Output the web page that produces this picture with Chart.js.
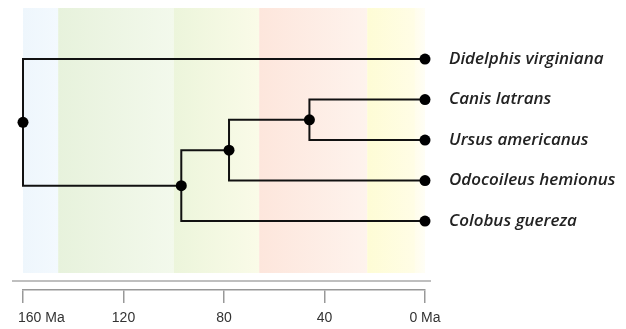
<!DOCTYPE html>
<html>
<head>
<meta charset="utf-8">
<script src="https://cdn.jsdelivr.net/npm/chart.js@4.4.0/dist/chart.umd.min.js"></script>
<style>
  html, body { margin: 0; padding: 0; background: #fff; }
  #wrap { width: 626px; height: 329px; position: relative; }
</style>
</head>
<body>
<div id="wrap"><canvas id="tree"></canvas></div>
<script>
// taxa (tips), top to bottom
var taxa = ['Didelphis virginiana', 'Canis latrans', 'Ursus americanus', 'Odocoileus hemionus', 'Colobus guereza'];
// internal nodes and their divergence times (Ma)
var nodeNames = ['root', 'n2', 'n3', 'n4'];
var nodeAges = [160, 97, 78, 46];
// children of each internal node (tips as 't0'..)
var nodeChildren = [['t0', 'n2'], ['n3', 't4'], ['n4', 't3'], ['t1', 't2']];

// geological time bands: [from Ma, to Ma]
var bandRanges = [[160, 146], [146, 100], [100, 66], [66, 23], [23, 4], [4, 0]];
var bandFrom = ['#eef6fc', '#e7f2dc', '#ecf5db', '#fde6dc', '#fefcd5', '#fffdec'];
var bandTo = ['#f3f9fe', '#f3f9ec', '#fafbe8', '#fef3ed', '#fffde6', '#fffef5'];

var tickLabels = ['160 Ma', '120', '80', '40', '0 Ma'];
var tickValues = [160, 120, 80, 40, 0];

// position of every node: tips sit at 0 Ma on their row, internal nodes at mid of children
var pos = {};
taxa.forEach(function (t, i) { pos['t' + i] = { x: 0, y: i }; });
function place(k) {
  if (pos[k]) return pos[k];
  var i = nodeNames.indexOf(k);
  var ys = nodeChildren[i].map(function (c) { return place(c).y; });
  pos[k] = { x: nodeAges[i], y: (ys[0] + ys[1]) / 2 };
  return pos[k];
}
nodeNames.forEach(place);

var datasets = [];
nodeNames.forEach(function (n, i) {
  nodeChildren[i].forEach(function (c) {
    datasets.push({
      type: 'scatter',
      showLine: true,
      data: [{ x: pos[n].x, y: pos[n].y }, { x: pos[n].x, y: pos[c].y }, { x: pos[c].x, y: pos[c].y }],
      borderColor: '#111',
      borderWidth: 2,
      pointRadius: 0,
      clip: false,
      order: 2
    });
  });
});
datasets.push({
  type: 'scatter',
  data: Object.keys(pos).map(function (k) { return pos[k]; }),
  backgroundColor: '#000',
  borderWidth: 0,
  pointRadius: 5.5,
  clip: false,
  order: 1
});

var bandsPlugin = {
  id: 'bands',
  beforeDatasetsDraw: function (chart) {
    var ctx = chart.ctx, xs = chart.scales.x, ys = chart.scales.y;
    var top = ys.getPixelForValue(-1.26), bot = ys.getPixelForValue(5.28);
    bandRanges.forEach(function (r, i) {
      var x0 = xs.getPixelForValue(r[0]), x1 = xs.getPixelForValue(r[1]);
      var g = ctx.createLinearGradient(x0, 0, x1, 0);
      g.addColorStop(0, bandFrom[i]);
      g.addColorStop(1, bandTo[i]);
      ctx.fillStyle = g;
      ctx.fillRect(x0, top, x1 - x0, bot - top);
    });
  },
  afterDraw: function (chart) {
    var ctx = chart.ctx, xs = chart.scales.x, a = chart.chartArea;
    ctx.save();
    // separator line above the time axis
    ctx.strokeStyle = '#aaa';
    ctx.lineWidth = 1.5;
    ctx.beginPath();
    ctx.moveTo(a.left - 11, a.bottom - 9);
    ctx.lineTo(a.right + 6, a.bottom - 9);
    ctx.stroke();
    // time axis labels, centred on the ticks but kept inside the left margin
    ctx.font = '14px "Liberation Sans", Arial, sans-serif';
    ctx.fillStyle = '#333';
    ctx.textBaseline = 'middle';
    ctx.textAlign = 'left';
    tickLabels.forEach(function (l, i) {
      var px = xs.getPixelForValue(tickValues[i]);
      var w = ctx.measureText(l).width;
      var x = Math.max(px - w / 2, a.left - 5);
      ctx.fillText(l, x, a.bottom + 28);
    });
    ctx.restore();
  }
};

new Chart(document.getElementById('tree'), {
  type: 'scatter',
  data: { datasets: datasets },
  plugins: [bandsPlugin],
  options: {
    responsive: true,
    maintainAspectRatio: false,
    animation: false,
    layout: { padding: { top: 8, left: 23, right: 0, bottom: 0 } },
    plugins: { legend: { display: false }, tooltip: { enabled: false } },
    scales: {
      x: {
        type: 'linear',
        reverse: true,
        min: 0,
        max: 160,
        afterFit: function (s) { s.height = 39; s.paddingLeft = 0; s.paddingRight = 0; },
        afterBuildTicks: function (s) { s.ticks = tickValues.map(function (v) { return { value: v }; }); },
        ticks: { display: false, autoSkip: false, maxRotation: 0 },
        grid: { drawOnChartArea: false, drawTicks: true, tickLength: 13, color: '#999', lineWidth: 1.5 },
        border: { display: true, color: '#999', width: 1.5 }
      },
      y: {
        type: 'linear',
        position: 'right',
        reverse: true,
        min: -1.26,
        max: 5.70,
        afterFit: function (s) { s.width = 201; s.paddingTop = 0; s.paddingBottom = 0; },
        afterBuildTicks: function (s) { s.ticks = taxa.map(function (t, i) { return { value: i }; }); },
        ticks: {
          autoSkip: false,
          padding: 16,
          color: '#222',
          font: { family: '"Open Sans", sans-serif', size: 17, style: 'italic', weight: '600' },
          callback: function (v) { return taxa[v]; }
        },
        grid: { display: false },
        border: { display: false }
      }
    }
  }
});
</script>
</body>
</html>
